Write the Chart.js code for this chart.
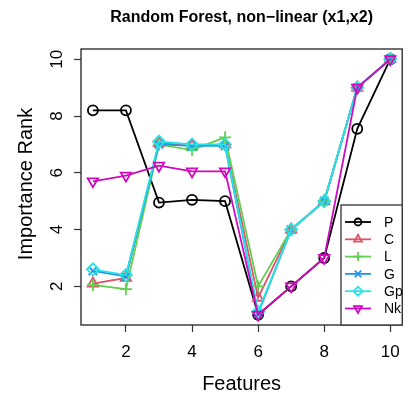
<!DOCTYPE html>
<html>
<head>
<meta charset="utf-8">
<script src="https://cdn.jsdelivr.net/npm/chart.js@4"></script>
<style>
  html, body { margin: 0; padding: 0; background: #fff; }
  #wrap { width: 410px; height: 393px; }
</style>
</head>
<body>
<div id="wrap"><canvas id="chart" width="410" height="393"></canvas></div>
<script>
// Data
const features = [1, 2, 3, 4, 5, 6, 7, 8, 9, 10];
const rankP  = [8.2, 8.2, 4.95, 5.05, 5.0, 1.0, 2.0, 3.0, 7.55, 10];
const rankC  = [2.1, 2.3, 7.05, 6.95, 7.0, 1.6, 4.0, 5.0, 9.0, 10];
const rankL  = [2.05, 1.9, 7.0, 6.8, 7.25, 2.0, 4.0, 5.0, 9.0, 10];
const rankG  = [2.55, 2.35, 7.0, 6.95, 6.95, 1.05, 4.0, 5.0, 9.0, 10];
const rankGp = [2.6, 2.4, 7.1, 7.0, 7.0, 1.1, 4.0, 5.0, 9.0, 10];
const rankNk = [5.7, 5.9, 6.25, 6.05, 6.05, 1.0, 2.0, 3.0, 9.0, 10];
const seriesNames = ['P', 'C', 'L', 'G', 'Gp', 'Nk'];
const xTicks = [2, 4, 6, 8, 10];
const yTicks = [2, 4, 6, 8, 10];

const FONT = '"Liberation Sans", Arial, Helvetica, sans-serif';

const seriesStyle = [
  { color: '#000000', pointStyle: 'circle',   radius: 5,   rotation: 0 },
  { color: '#DF536B', pointStyle: 'triangle', radius: 6,   rotation: 0 },
  { color: '#61D04F', pointStyle: 'cross',    radius: 6,   rotation: 0 },
  { color: '#2297E6', pointStyle: 'crossRot', radius: 6,   rotation: 0 },
  { color: '#28E2E5', pointStyle: 'rectRot',  radius: 6,   rotation: 0 },
  { color: '#CD0BBC', pointStyle: 'triangle', radius: 6,   rotation: 180 }
];

const allRanks = [rankP, rankC, rankL, rankG, rankGp, rankNk];

const datasets = allRanks.map((vals, i) => ({
  label: seriesNames[i],
  data: features.map((f, j) => ({ x: f, y: vals[j] })),
  borderColor: seriesStyle[i].color,
  backgroundColor: 'rgba(0,0,0,0)',
  borderWidth: 1.8,
  pointStyle: seriesStyle[i].pointStyle,
  pointRadius: seriesStyle[i].radius,
  pointRotation: seriesStyle[i].rotation,
  pointBorderColor: seriesStyle[i].color,
  pointBackgroundColor: 'rgba(0,0,0,0)',
  pointBorderWidth: 1.8,
  tension: 0,
  order: allRanks.length - i // later series on top
}));

// Box, texts and legend drawn like R base graphics
const rPlotDecor = {
  id: 'rPlotDecor',
  afterDatasetsDraw(chart) {
    const ctx = chart.ctx;
    const a = chart.chartArea;
    const xs = chart.scales.x;
    const ys = chart.scales.y;
    ctx.save();

    // plot box
    ctx.strokeStyle = '#222';
    ctx.lineWidth = 1.3;
    ctx.strokeRect(a.left, a.top, a.right - a.left, a.bottom - a.top);

    ctx.fillStyle = '#000';

    // title
    ctx.font = 'bold 16px ' + FONT;
    ctx.textAlign = 'center';
    ctx.textBaseline = 'alphabetic';
    ctx.fillText('Random Forest, non\u2212linear (x1,x2)', (a.left + a.right) / 2, 22);

    // x tick labels
    ctx.font = '17px ' + FONT;
    xTicks.forEach(v => {
      ctx.fillText(String(v), xs.getPixelForValue(v), 357);
    });

    // x title
    ctx.font = '20px ' + FONT;
    ctx.fillText('Features', (a.left + a.right) / 2, 390);

    // y tick labels (parallel to axis)
    ctx.font = '17px ' + FONT;
    yTicks.forEach(v => {
      ctx.save();
      ctx.translate(62, ys.getPixelForValue(v));
      ctx.rotate(-Math.PI / 2);
      ctx.fillText(String(v), 0, 0);
      ctx.restore();
    });

    // y title
    ctx.save();
    ctx.font = '20px ' + FONT;
    ctx.translate(32, (a.top + a.bottom) / 2 - 3);
    ctx.rotate(-Math.PI / 2);
    ctx.fillText('Importance Rank', 0, 0);
    ctx.restore();

    // legend, bottom right inside the plot
    const lx = 341, ly = 205;
    const lw = a.right - lx, lh = a.bottom - ly;
    ctx.fillStyle = '#fff';
    ctx.fillRect(lx, ly, lw, lh);
    ctx.strokeStyle = '#333';
    ctx.lineWidth = 1.3;
    ctx.strokeRect(lx, ly, lw, lh);
    ctx.font = '14px ' + FONT;
    ctx.textAlign = 'left';
    ctx.textBaseline = 'middle';
    seriesNames.forEach((name, i) => {
      const cy = ly + 17 + i * 17.3;
      const st = seriesStyle[i];
      ctx.strokeStyle = st.color;
      ctx.lineWidth = 1.8;
      ctx.beginPath();
      ctx.moveTo(lx + 4, cy);
      ctx.lineTo(lx + 30, cy);
      ctx.stroke();
      ctx.fillStyle = 'rgba(0,0,0,0)';
      Chart.helpers.drawPoint(ctx, {
        pointStyle: st.pointStyle,
        radius: st.pointStyle === 'circle' ? 3.5 : 4.5,
        rotation: st.rotation,
        borderWidth: 1.8
      }, lx + 17, cy);
      ctx.fillStyle = '#000';
      ctx.fillText(name, lx + 43, cy + 1);
    });

    ctx.restore();
  }
};

function fixedTicks(values) {
  return scale => { scale.ticks = values.map(v => ({ value: v })); };
}

new Chart(document.getElementById('chart').getContext('2d'), {
  type: 'line',
  data: { datasets: datasets },
  options: {
    responsive: false,
    animation: false,
    events: [],
    layout: { padding: { left: 74, right: 2, top: 49, bottom: 61 } },
    plugins: {
      legend: { display: false },
      title: { display: false },
      tooltip: { enabled: false }
    },
    scales: {
      x: {
        type: 'linear',
        min: 0.64,
        max: 10.36,
        afterBuildTicks: fixedTicks(xTicks),
        ticks: { display: false },
        border: { display: false },
        grid: { drawOnChartArea: false, drawTicks: true, tickLength: 7, color: '#333', tickWidth: 1.2 }
      },
      y: {
        type: 'linear',
        min: 0.64,
        max: 10.36,
        afterBuildTicks: fixedTicks(yTicks),
        ticks: { display: false },
        border: { display: false },
        grid: { drawOnChartArea: false, drawTicks: true, tickLength: 7, color: '#333', tickWidth: 1.2 }
      }
    }
  },
  plugins: [rPlotDecor]
});
</script>
</body>
</html>
